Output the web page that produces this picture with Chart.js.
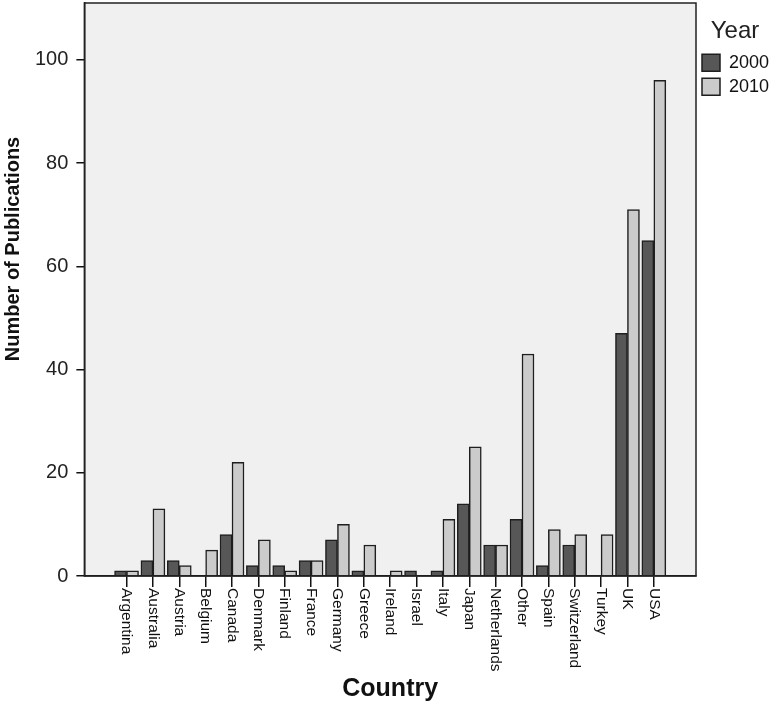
<!DOCTYPE html>
<html>
<head>
<meta charset="utf-8">
<script src="https://cdn.jsdelivr.net/npm/chart.js@4/dist/chart.umd.min.js"></script>
<style>
  html, body { margin: 0; padding: 0; background: #ffffff; }
  #wrap { width: 774px; height: 705px; }
</style>
</head>
<body>
<div id="wrap"><canvas id="chart" width="774" height="705"></canvas></div>
<script>
// publications per country
const countries = [ 'Argentina', 'Australia', 'Austria', 'Belgium', 'Canada', 'Denmark', 'Finland',
  'France', 'Germany', 'Greece', 'Ireland', 'Israel', 'Italy', 'Japan', 'Netherlands', 'Other',
  'Spain', 'Switzerland', 'Turkey', 'UK', 'USA' ];
const pubs_2000 = [ 1, 3, 3, 0, 8, 2, 2, 3, 7, 1, 0, 1, 1, 14, 6, 11, 2, 6, 0, 47, 65 ];
const pubs_2010 = [ 1, 13, 2, 5, 22, 7, 1, 3, 10, 6, 1, 0, 11, 25, 6, 43, 9, 8, 8, 71, 96 ];
const y_ticks = [ 0, 20, 40, 60, 80, 100 ];

function to_points( values ) {
  return values.map( ( v, i ) => ( { x: i, y: v } ) );
}

// grey plot background + frame round it
const frame_plugin = {
  id: 'frame_plugin',
  beforeDraw( chart ) {
    const { ctx, chartArea: a } = chart;
    ctx.save();
    ctx.fillStyle = '#ffffff';
    ctx.fillRect( 0, 0, chart.width, chart.height );
    ctx.fillStyle = '#f0f0f0';
    ctx.fillRect( a.left, a.top, a.right - a.left, a.bottom - a.top );
    ctx.restore();
  },
  afterDatasetsDraw( chart ) {
    const { ctx, chartArea: a } = chart;
    ctx.save();
    ctx.strokeStyle = '#222222';
    ctx.lineWidth = 1.5;
    ctx.strokeRect( a.left, a.top, a.right - a.left, a.bottom - a.top );
    ctx.restore();
  },
  afterDraw( chart ) {
    const { ctx, chartArea: a } = chart;
    const x_scale = chart.scales.x;
    ctx.save();
    // country labels, turned to read top to bottom
    ctx.fillStyle = '#111111';
    ctx.font = '15.5px Arial, "Liberation Sans", sans-serif';
    ctx.textAlign = 'left';
    ctx.textBaseline = 'middle';
    countries.forEach( ( name, i ) => {
      const x = x_scale.getPixelForValue( i );
      ctx.save();
      ctx.translate( x, a.bottom + 12 );
      ctx.rotate( Math.PI / 2 );
      ctx.fillText( name, 0, 0 );
      ctx.restore();
    } );
    // y title sits a bit above the middle in the original
    ctx.font = 'bold 20px Arial, "Liberation Sans", sans-serif';
    ctx.textAlign = 'center';
    ctx.translate( 13, 249 );
    ctx.rotate( -Math.PI / 2 );
    ctx.fillText( 'Number of Publications', 0, 0 );
    ctx.restore();
  }
};

document.addEventListener( 'DOMContentLoaded', function () {
  const ctx = document.getElementById( 'chart' ).getContext( '2d' );
  new Chart( ctx, {
    type: 'bar',
    data: {
      datasets: [ {
        label: '2000',
        data: to_points( pubs_2000 ),
        backgroundColor: '#575757',
        borderColor: '#1e1e1e',
        borderWidth: 1.5
      }, {
        label: '2010',
        data: to_points( pubs_2010 ),
        backgroundColor: '#cbcbcb',
        borderColor: '#1e1e1e',
        borderWidth: 1.5
      } ]
    },
    options: {
      responsive: false,
      animation: false,
      barThickness: 12,
      layout: { padding: { left: 27, right: 0, top: 3, bottom: 0 } },
      plugins: {
        tooltip: { enabled: false },
        legend: {
          position: 'right',
          align: 'start',
          maxWidth: 78,
          title: {
            display: true,
            text: 'Year',
            color: '#222222',
            font: { family: 'Arial', size: 24 },
            padding: { top: 16, bottom: 0 }
          },
          labels: {
            boxWidth: 18,
            boxHeight: 17,
            padding: 6,
            color: '#111111',
            font: { family: 'Arial', size: 18, lineHeight: 1 }
          }
        }
      },
      scales: {
        x: {
          type: 'linear',
          offset: false,
          min: -1.6,
          max: 21.6,
          afterBuildTicks: axis => {
            axis.ticks = countries.map( ( c, i ) => ( { value: i } ) );
          },
          ticks: { display: false, stepSize: 1 },
          grid: { offset: false, drawOnChartArea: false, drawTicks: true, tickLength: 11, color: '#111111', lineWidth: 1.5 },
          border: { display: true, color: '#111111', width: 1.5 },
          title: {
            display: true,
            text: 'Country',
            color: '#111111',
            font: { family: 'Arial', size: 25, weight: 'bold' },
            padding: { top: 87, bottom: 1 }
          }
        },
        y: {
          min: 0,
          max: 111,
          afterBuildTicks: axis => {
            axis.ticks = y_ticks.map( v => ( { value: v } ) );
          },
          afterFit: axis => {
            axis.paddingTop = 0;
          },
          ticks: {
            color: '#222222',
            padding: 8,
            font: { family: 'Arial', size: 20 }
          },
          grid: { drawOnChartArea: false, drawTicks: true, tickLength: 8, color: '#111111', lineWidth: 1.5 },
          border: { display: true, color: '#111111', width: 1.5 }
        }
      }
    },
    plugins: [ frame_plugin ]
  } );
} );
</script>
</body>
</html>
